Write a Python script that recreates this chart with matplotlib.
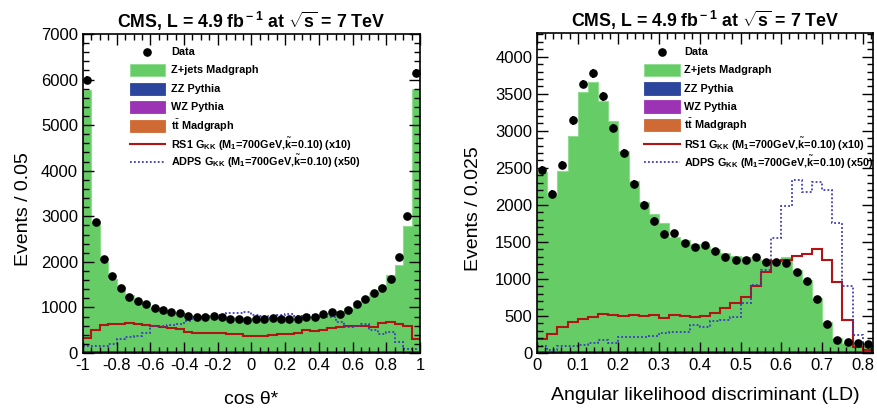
import numpy as np
import matplotlib
matplotlib.use("Agg")
import matplotlib.pyplot as plt
from matplotlib.patches import Rectangle
from matplotlib.lines import Line2D
from matplotlib.ticker import MultipleLocator

plt.rcParams["font.family"] = ["Liberation Sans", "DejaVu Sans"]
plt.rcParams["mathtext.fontset"] = "custom"
plt.rcParams["mathtext.rm"] = "Liberation Sans"
plt.rcParams["mathtext.it"] = "Liberation Sans:italic"
plt.rcParams["mathtext.bf"] = "Liberation Sans:bold"

# ---- left panel: cos theta*, 40 bins of 0.05 ----
cos_lo, cos_hi, cos_nbins = -1.0, 1.0, 40
data_cos = [6000, 2880, 2070, 1690, 1430, 1230, 1130, 1070, 990, 935,
            890, 880, 805, 795, 780, 810, 780, 750, 750, 730,
            735, 745, 770, 750, 750, 750, 780, 780, 845, 890,
            860, 940, 1065, 1185, 1315, 1420, 1630, 2110, 3000, 6150]
zjets_cos = [5720, 2830, 1945, 1578, 1416, 1232, 1107, 1078, 953, 916,
             864, 842, 790, 769, 754, 754, 754, 754, 754, 740,
             740, 740, 754, 754, 754, 754, 769, 769, 790, 842,
             886, 960, 1085, 1159, 1269, 1430, 1673, 1894, 2739, 5740]
zz_cos = [30, 28, 27, 26, 25, 25, 24, 24, 23, 23, 23, 22, 22, 22, 22, 22, 22, 22, 22, 22,
          22, 22, 22, 22, 22, 22, 22, 22, 22, 23, 23, 23, 24, 24, 25, 25, 26, 27, 28, 30]
wz_cos = [12, 11, 11, 10, 10, 10, 10, 10, 9, 9, 9, 9, 9, 9, 9, 9, 9, 9, 9, 9,
          9, 9, 9, 9, 9, 9, 9, 9, 9, 9, 9, 9, 10, 10, 10, 10, 10, 11, 11, 12]
tt_cos = [5, 5, 5, 5, 5, 5, 5, 5, 5, 5, 5, 5, 5, 5, 5, 5, 5, 5, 5, 5,
          5, 5, 5, 5, 5, 5, 5, 5, 5, 5, 5, 5, 5, 5, 5, 5, 5, 5, 5, 5]
rs1_cos = [320, 500, 610, 632, 647, 662, 632, 610, 603, 574,
           551, 522, 463, 449, 441, 441, 441, 426, 412, 382,
           375, 382, 397, 412, 426, 441, 500, 478, 515, 551,
           566, 588, 588, 595, 574, 662, 684, 647, 588, 300]
adps_cos = [154, 154, 147, 206, 316, 353, 382, 449, 588, 596,
            610, 647, 699, 779, 794, 809, 830, 868, 882, 890,
            830, 816, 794, 830, 846, 809, 830, 830, 794, 779,
            684, 574, 596, 647, 500, 426, 463, 243, 96, 81]

# ---- right panel: angular likelihood discriminant, 33 bins of 0.025 ----
ld_lo, ld_hi, ld_nbins = 0.0, 0.825, 33
data_ld = [2475, 2149, 2538, 3140, 3631, 3779, 3464, 3036, 2698, 2282,
           2002, 1788, 1610, 1626, 1491, 1437, 1455, 1383, 1302, 1257,
           1257, 1293, 1234, 1234, 1221, 1090, 973, 725, 392, 176,
           144, 131, 122]
zjets_ld = [2407, 2105, 2429, 2893, 3488, 3623, 3366, 3096, 2691, 2294,
            2006, 1853, 1722, 1540, 1490, 1440, 1410, 1370, 1320, 1280,
            1260, 1240, 1230, 1220, 1260, 1090, 960, 710, 390, 175,
            115, 85, 65]
zz_ld = [18, 18, 18, 18, 18, 18, 18, 18, 18, 18, 18, 18, 18, 18, 18, 18, 18,
         18, 18, 18, 18, 18, 18, 18, 18, 18, 18, 18, 18, 16, 16, 16, 16]
wz_ld = [8, 8, 8, 8, 8, 8, 8, 8, 8, 8, 8, 8, 8, 8, 8, 8, 8,
         8, 8, 8, 8, 8, 8, 8, 8, 8, 8, 8, 8, 6, 6, 6, 6]
tt_ld = [4, 4, 4, 4, 4, 4, 4, 4, 4, 4, 4, 4, 4, 4, 4, 4, 4,
         4, 4, 4, 4, 4, 4, 4, 4, 4, 4, 4, 4, 3, 3, 3, 3]
rs1_ld = [195, 257, 347, 417, 457, 485, 523, 508, 503, 509,
          505, 507, 468, 509, 500, 491, 500, 545, 604, 680,
          761, 905, 1099, 1248, 1257, 1311, 1338, 1405, 1257, 964,
          446, 86, 40]
adps_ld = [90, 40, 100, 100, 110, 130, 170, 140, 220, 220,
           220, 225, 265, 280, 290, 380, 350, 430, 440, 490,
           680, 920, 1120, 1550, 1980, 2330, 2170, 2310, 2200, 1750,
           900, 240, 130]

legend_labels = [
    "Data",
    "Z+jets Madgraph",
    "ZZ Pythia",
    "WZ Pythia",
    r"t$\bar{\bf t}$ Madgraph",
    r"RS1 G$_{\bf KK}$ (M$_{\bf 1}$=700GeV,$\tilde{\bf k}$=0.10) (x10)",
    r"ADPS G$_{\bf KK}$ (M$_{\bf 1}$=700GeV,$\tilde{\bf k}$=0.10) (x50)",
]

c_zjets = "#66CC66"
c_zz = "#2C469E"
c_wz = "#9C33B4"
c_tt = "#D06A35"
c_rs1 = "#B01414"
c_adps = "#3A3AC0"
adps_ls = (0, (1, 1.2))

title = r"CMS, L = 4.9 fb$^{\bf -1}$ at $\sqrt{\bf s}$ = 7 TeV"


def draw_panel(ax, lo, hi, nbins, data, zjets, zz, wz, tt, rs1, adps):
    edges = np.linspace(lo, hi, nbins + 1)
    centers = 0.5 * (edges[:-1] + edges[1:])
    tt_a = np.array(tt, float)
    wz_a = tt_a + np.array(wz, float)
    zz_a = wz_a + np.array(zz, float)
    tot = zz_a + np.array(zjets, float)
    ax.stairs(tot, edges, baseline=zz_a, fill=True, color=c_zjets, lw=0)
    ax.stairs(tot, edges, baseline=None, color="#8FDC8F", lw=0.8)
    ax.stairs(zz_a, edges, baseline=wz_a, fill=True, color=c_zz, lw=0)
    ax.stairs(wz_a, edges, baseline=tt_a, fill=True, color=c_wz, lw=0)
    ax.stairs(tt_a, edges, baseline=0, fill=True, color=c_tt, lw=0)
    ax.stairs(rs1, edges, baseline=None, color=c_rs1, lw=1.5)
    ax.stairs(adps, edges, baseline=None, color=c_adps, lw=1.3, ls=adps_ls)
    d = np.array(data, float)
    ax.errorbar(centers, d, yerr=np.sqrt(d), fmt="o", color="black", ms=5.2,
                elinewidth=1.2, capsize=0, zorder=5)
    ax.set_xlim(lo, hi)
    ax.tick_params(which="both", direction="in", top=True, right=True,
                   labelsize=12, width=1.0)
    ax.tick_params(which="major", length=8)
    ax.tick_params(which="minor", length=4)
    for s in ax.spines.values():
        s.set_linewidth(1.2)
    ax.set_title(title, fontsize=12.8, fontweight="bold", pad=4)


def add_legend(ax, x0, x1, xt, rows):
    # hand-placed legend rows (ROOT TLegend style, uniform row spacing)
    tr = ax.transAxes
    h = 0.039
    styles = ["data", c_zjets, c_zz, c_wz, c_tt, "rs1", "adps"]
    for y, st, lab in zip(rows, styles, legend_labels):
        if st == "data":
            ax.add_line(Line2D([(x0 + x1) / 2], [y], marker="o", color="black",
                               ms=5.2, transform=tr, clip_on=False))
        elif st == "rs1":
            ax.add_line(Line2D([x0, x1], [y, y], color=c_rs1, lw=1.5,
                               transform=tr))
        elif st == "adps":
            ax.add_line(Line2D([x0, x1], [y, y], color=c_adps, lw=1.3,
                               ls=adps_ls, transform=tr))
        else:
            ec = "#8FDC8F" if st == c_zjets else st
            ax.add_patch(Rectangle((x0, y - h / 2), x1 - x0, h, facecolor=st,
                                   edgecolor=ec, lw=0.6, transform=tr))
        ax.text(xt, y, lab, transform=tr, fontsize=7.8, fontweight="bold",
                va="center", ha="left")


fig = plt.figure(figsize=(8.77, 4.13), dpi=100)
axL = fig.add_axes([0.0946, 0.1453, 0.3843, 0.7724])
axR = fig.add_axes([0.6123, 0.1453, 0.3831, 0.7748])

draw_panel(axL, cos_lo, cos_hi, cos_nbins, data_cos, zjets_cos, zz_cos,
           wz_cos, tt_cos, rs1_cos, adps_cos)
axL.set_ylim(0, 7000)
axL.xaxis.set_minor_locator(MultipleLocator(0.05))
axL.yaxis.set_major_locator(MultipleLocator(1000))
axL.yaxis.set_minor_locator(MultipleLocator(200))
axL.set_xticks(np.arange(-1, 1.01, 0.2))
axL.set_xticklabels(["-1", "-0.8", "-0.6", "-0.4", "-0.2", "0",
                     "0.2", "0.4", "0.6", "0.8", "1"])
axL.set_ylabel("Events / 0.05", fontsize=14)
axL.yaxis.set_label_coords(-0.152, 0.45)
axL.set_xlabel("cos θ*", fontsize=14, labelpad=13)
add_legend(axL, 0.139, 0.243, 0.262,
           [0.944, 0.887, 0.828, 0.771, 0.712, 0.655, 0.599])

draw_panel(axR, ld_lo, ld_hi, ld_nbins, data_ld, zjets_ld, zz_ld,
           wz_ld, tt_ld, rs1_ld, adps_ld)
axR.set_ylim(0, 4320)
axR.xaxis.set_minor_locator(MultipleLocator(0.02))
axR.yaxis.set_major_locator(MultipleLocator(500))
axR.yaxis.set_minor_locator(MultipleLocator(100))
axR.set_xticks(np.arange(0, 0.81, 0.1))
axR.set_xticklabels(["0", "0.1", "0.2", "0.3", "0.4", "0.5", "0.6", "0.7", "0.8"])
axR.set_ylabel("Events / 0.025", fontsize=14)
axR.yaxis.set_label_coords(-0.165, 0.45)
axR.set_xlabel("Angular likelihood discriminant (LD)", fontsize=14, labelpad=10)
add_legend(axR, 0.318, 0.426, 0.438,
           [0.941, 0.884, 0.826, 0.770, 0.712, 0.653, 0.597])

fig.savefig("out.png", dpi=100)
